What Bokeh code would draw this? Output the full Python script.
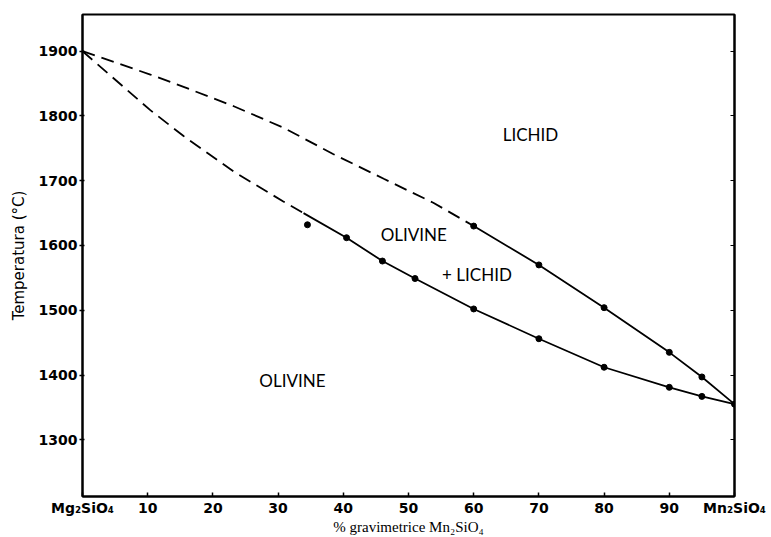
from bokeh.plotting import figure
from bokeh.models import FixedTicker, LinearAxis, Range1d
from bokeh.embed import file_html
from bokeh.resources import INLINE

# ---- data ----
# liquidus (upper curve): dashed part (extrapolated) and solid part
liq_dash_x = [0, 10.4, 15.5, 23.2, 30.8, 38.5, 46.2, 53.8, 60]
liq_dash_t = [1900, 1864, 1845, 1815, 1782, 1741, 1703, 1666, 1630]
liq_x = [60, 70, 80, 90, 95, 100]
liq_t = [1630, 1570, 1504, 1435, 1397, 1355]
# solidus (lower curve)
sol_dash_x = [0, 10.4, 15.5, 23.2, 30.8, 33.9]
sol_dash_t = [1900, 1809, 1769, 1714, 1668, 1650]
sol_x = [33.9, 40.5, 46, 51, 60, 70, 80, 90, 95, 100]
sol_t = [1650, 1612, 1576, 1549, 1502, 1456, 1412, 1381, 1367, 1355]
# measured points
pts_x = [34.5, 40.5, 46, 51, 60, 70, 80, 90, 95, 60, 70, 80, 90, 95, 100]
pts_t = [1632, 1612, 1576, 1549, 1502, 1456, 1412, 1381, 1367,
         1630, 1570, 1504, 1435, 1397, 1355]

x_ticks = [0, 10, 20, 30, 40, 50, 60, 70, 80, 90, 100]
x_tick_labels = ["Mg₂SiO₄", "10", "20", "30", "40", "50", "60", "70", "80", "90", "Mn₂SiO₄"]
y_ticks = [1300, 1400, 1500, 1600, 1700, 1800, 1900]

# region labels
region_text = ["LICHID", "OLIVINE", "+ LICHID", "OLIVINE"]
region_x = [68.7, 50.8, 60.5, 32.2]
region_t = [1771, 1617, 1555, 1392]

p = figure(width=771, height=537, output_backend="svg", toolbar_location=None,
           x_range=Range1d(0, 100), y_range=Range1d(1212.4, 1956.7),
           min_border_left=82, min_border_right=37, min_border_top=14,
           min_border_bottom=40)
p.background_fill_color = "white"
p.border_fill_color = "white"
p.grid.visible = False
p.outline_line_color = "black"
p.outline_line_width = 2

p.xaxis.ticker = FixedTicker(ticks=x_ticks)
p.xaxis.major_label_overrides = {t: s for t, s in zip(x_ticks, x_tick_labels)}
p.yaxis.ticker = FixedTicker(ticks=y_ticks)
for ax in (p.xaxis, p.yaxis):
    ax.axis_line_width = 2
    ax.axis_line_color = "black"
    ax.major_tick_line_color = "black"
    ax.major_tick_line_width = 1.5
    ax.minor_tick_line_color = None
    ax.major_label_text_font = "DejaVu Sans"
    ax.major_label_text_font_style = "bold"
    ax.major_label_text_font_size = "14px"
    ax.major_label_text_color = "black"
    ax.axis_label_text_color = "black"
p.xaxis.major_tick_in = 4
p.xaxis.major_tick_out = 0
p.xaxis.major_label_standoff = 3
p.yaxis.major_tick_in = 2
p.yaxis.major_tick_out = 3
p.yaxis.major_label_standoff = 2

p.xaxis.axis_label = "% gravimetrice Mn₂SiO₄"
p.xaxis.axis_label_text_font = "Liberation Serif"
p.xaxis.axis_label_text_font_style = "normal"
p.xaxis.axis_label_text_font_size = "15px"
p.xaxis.axis_label_standoff = 0
p.yaxis.axis_label = "Temperatura (°C)"
p.yaxis.axis_label_text_font = "DejaVu Sans"
p.yaxis.axis_label_text_font_style = "normal"
p.yaxis.axis_label_text_font_size = "15px"
p.yaxis.axis_label_standoff = 8

# right axis with small inward ticks, no labels
rax = LinearAxis(ticker=FixedTicker(ticks=y_ticks),
                 major_label_overrides={t: "" for t in y_ticks},
                 major_tick_in=4, major_tick_out=0, minor_tick_line_color=None,
                 axis_line_width=2, major_label_standoff=0)
p.add_layout(rax, "right")

# curves
p.line(liq_dash_x, liq_dash_t, line_color="black", line_width=1.8, line_dash="13 7")
p.line(sol_dash_x, sol_dash_t, line_color="black", line_width=1.8, line_dash="13 7")
p.line(liq_x, liq_t, line_color="black", line_width=1.8)
p.line(sol_x, sol_t, line_color="black", line_width=1.8)
p.scatter(pts_x, pts_t, size=6, color="black")

p.text(region_x, region_t, text=region_text, text_font_size="17px",
       text_font={"value": "Lato"}, text_align="center", text_baseline="middle",
       text_color="black")

open("out.html", "w").write(file_html(p, INLINE))
